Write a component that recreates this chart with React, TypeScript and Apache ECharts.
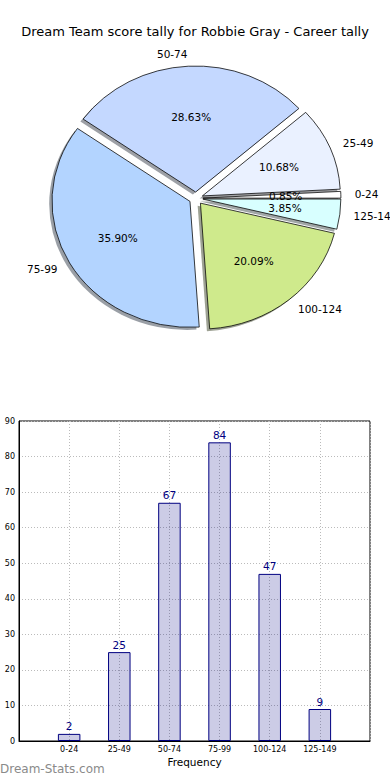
import React, { useEffect, useRef } from "react";
import * as echarts from "echarts";

const categories = ["0-24", "25-49", "50-74", "75-99", "100-124", "125-149"];
const counts = [2, 25, 67, 84, 47, 9];
const pieColors = ["#ffffff", "#eaf1ff", "#c4d8ff", "#b3d4ff", "#cfea8c", "#d8ffff"];
const titleText = "Dream Team score tally for Robbie Gray - Career tally";
const xAxisName = "Frequency";
const watermark = "Dream-Stats.com";

const FONT = "DejaVu Sans";

export default function App() {
  const ref = useRef<HTMLDivElement>(null);
  useEffect(() => {
    const chart = echarts.init(ref.current!, null, { renderer: "svg", width: 390, height: 780 });
    const total = counts.reduce((a, b) => a + b, 0);
    const cum: number[] = [];
    let s = 0;
    counts.forEach((v) => {
      cum.push(s);
      s += v;
    });
    const CX = 196, CY = 198.3, RX = 138, RY = 126, EXP = 0.05, SH = 0.02;
    const TAU = Math.PI * 2;
    const geom = (i: number, v: number) => {
      const a0 = (cum[i] / total) * TAU;
      const a1 = a0 + (v / total) * TAU;
      const am = (a0 + a1) / 2;
      return { a0, a1, am, ox: CX + EXP * RX * Math.cos(am), oy: CY - EXP * RY * Math.sin(am) };
    };
    const shade = (hex: string) => {
      const n = parseInt(hex.slice(1), 16);
      const r = Math.round(((n >> 16) & 255) * 0.3);
      const g = Math.round(((n >> 8) & 255) * 0.3);
      const b = Math.round((n & 255) * 0.3);
      return `rgba(${r},${g},${b},0.5)`;
    };
    const wedge = (ox: number, oy: number, a0: number, a1: number, style: any) => ({
      type: "group",
      x: ox,
      y: oy,
      scaleY: RY / RX,
      children: [
        {
          type: "sector",
          shape: { cx: 0, cy: 0, r0: 0, r: RX, startAngle: -a1, endAngle: -a0, clockwise: true },
          style,
        },
      ],
    });

    const option: any = {
      animation: false,
      backgroundColor: "#ffffff",
      title: {
        text: titleText,
        left: "center",
        top: 20,
        textStyle: { fontFamily: FONT, fontSize: 13, fontWeight: "normal", color: "#000" },
      },
      graphic: [
        {
          type: "text",
          left: 0,
          top: 763,
          style: { text: watermark, fontFamily: FONT, fontSize: 12, fill: "#8a8a8a", fontWeight: "normal" },
        },
      ],
      grid: {
        left: 19,
        right: 20,
        top: 421,
        bottom: 39,
        show: true,
        borderColor: "#000",
        borderWidth: 1,
      },
      xAxis: {
        type: "value",
        min: -1,
        max: 6,
        interval: 1,
        name: xAxisName,
        nameLocation: "middle",
        nameGap: 15,
        nameTextStyle: { fontFamily: FONT, fontSize: 10.5, color: "#000" },
        axisLine: { show: true, onZero: false, lineStyle: { color: "#000", width: 1 } },
        axisTick: { show: false },
        axisLabel: {
          fontFamily: FONT,
          fontSize: 8,
          color: "#000",
          margin: 4,
          formatter: (v: number) => (categories[v] !== undefined ? categories[v] : ""),
        },
        splitLine: { show: true, lineStyle: { color: "#bbbbbb", type: [1, 2], width: 1 } },
      },
      yAxis: {
        type: "value",
        min: 0,
        max: 90,
        interval: 10,
        axisLine: { show: true, onZero: false, lineStyle: { color: "#000", width: 1 } },
        axisTick: { show: false },
        axisLabel: { fontFamily: FONT, fontSize: 8, color: "#000", margin: 4 },
        splitLine: { show: true, lineStyle: { color: "#bbbbbb", type: [1, 2], width: 1 } },
      },
      series: [
        {
          type: "bar",
          data: counts.map((v, i) => [i, v]),
          barWidth: 22.5,
          itemStyle: { color: "rgba(0,0,128,0.2)", borderColor: "#000080", borderWidth: 1 },
          label: {
            show: true,
            position: "top",
            distance: 2,
            color: "#000080",
            fontFamily: FONT,
            fontSize: 10.5,
            formatter: (p: any) => String(p.value[1]),
          },
        },
        {
          type: "custom",
          coordinateSystem: "none",
          silent: true,
          data: counts.map((v) => [v]),
          renderItem: (params: any, api: any) => {
            const i = params.dataIndex;
            const g = geom(i, api.value(0));
            return wedge(g.ox - SH * RX, g.oy + SH * RY, g.a0, g.a1, { fill: shade(pieColors[i]) });
          },
        },
        {
          type: "custom",
          coordinateSystem: "none",
          silent: true,
          data: counts.map((v) => [v]),
          renderItem: (params: any, api: any) => {
            const i = params.dataIndex;
            const v = api.value(0);
            const g = geom(i, v);
            const c = Math.cos(g.am), sn = Math.sin(g.am);
            return {
              type: "group",
              children: [
                wedge(g.ox, g.oy, g.a0, g.a1, { fill: pieColors[i], stroke: "#000", lineWidth: 0.8 }),
                {
                  type: "text",
                  z2: 100,
                  x: g.ox + 0.6 * RX * c,
                  y: g.oy - 0.6 * RY * sn,
                  style: {
                    text: ((v / total) * 100).toFixed(2) + "%",
                    align: "center",
                    verticalAlign: "middle",
                    fontFamily: FONT,
                    fontSize: 10.5,
                    fill: "#000",
                  },
                },
                {
                  type: "text",
                  z2: 100,
                  x: g.ox + 1.1 * RX * c,
                  y: g.oy - 1.1 * RY * sn,
                  style: {
                    text: categories[i],
                    align: c > 0 ? "left" : "right",
                    verticalAlign: "middle",
                    fontFamily: FONT,
                    fontSize: 10.5,
                    fill: "#000",
                  },
                },
              ],
            };
          },
        },
      ],
    };
    chart.setOption(option);
    return () => chart.dispose();
  }, []);
  return <div ref={ref} style={{ position: "fixed", left: 0, top: 0, width: 390, height: 780 }} />;
}
